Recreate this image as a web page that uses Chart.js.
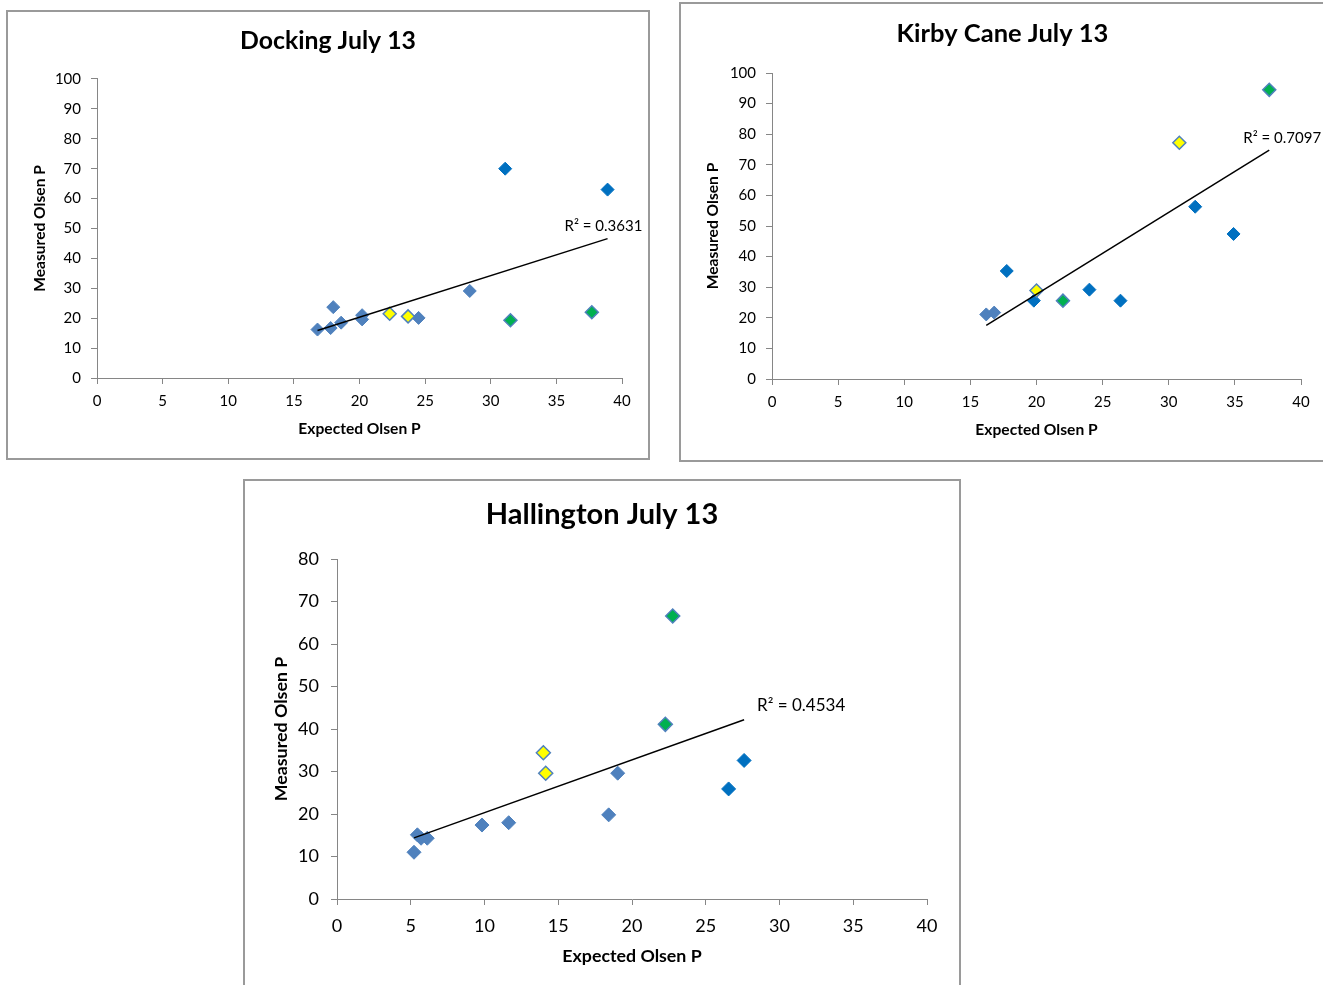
<!DOCTYPE html>
<html>
<head>
<meta charset="utf-8">
<script src="https://cdn.jsdelivr.net/npm/chart.js@4/dist/chart.umd.min.js"></script>
<style>
  html, body { margin: 0; padding: 0; background: #ffffff; }
  body { width: 1323px; height: 985px; position: relative; overflow: hidden; }
  .box { position: absolute; border: 2px solid #9a9a9a; background: #fff; }
  .box canvas { display: block; }
</style>
</head>
<body>
<div class="box" id="box1" style="left:6px; top:10px;"><canvas id="c1" width="640" height="446"></canvas></div>
<div class="box" id="box2" style="left:679px; top:2px;"><canvas id="c2" width="643" height="456"></canvas></div>
<div class="box" id="box3" style="left:243px; top:479px;"><canvas id="c3" width="714" height="504"></canvas></div>
<script>
// ---------------- DATA ----------------
const chartTitles = ['Docking July 13', 'Kirby Cane July 13', 'Hallington July 13'];
const xAxisTitle = 'Expected Olsen P';
const yAxisTitle = 'Measured Olsen P';
const r2Labels = ['R\u00B2 = 0.3631', 'R\u00B2 = 0.7097', 'R\u00B2 = 0.4534'];
const xTickMax = 40, xTickStep = 5;
const yTickMax = [100, 100, 80], yTickStep = 10;

// Docking
const dockLightX = [16.8, 17.8, 18.0, 18.6, 20.2, 20.2, 24.5, 28.4];
const dockLightY = [16.2, 16.7, 23.7, 18.5, 21.0, 19.6, 20.1, 29.1];
const dockDarkX = [31.1, 38.9];
const dockDarkY = [70.0, 63.0];
const dockYellowX = [22.3, 23.7];
const dockYellowY = [21.5, 20.6];
const dockGreenX = [31.5, 37.7];
const dockGreenY = [19.3, 22.0];

// Kirby Cane
const kirbyLightX = [16.2, 16.8];
const kirbyLightY = [21.1, 21.7];
const kirbyDarkX = [17.75, 19.8, 24.0, 26.35, 32.0, 34.9];
const kirbyDarkY = [35.3, 25.6, 29.2, 25.6, 56.3, 47.4];
const kirbyYellowX = [20.0, 30.8];
const kirbyYellowY = [28.9, 77.2];
const kirbyGreenX = [22.0, 37.6];
const kirbyGreenY = [25.6, 94.5];

// Hallington
const hallLightX = [5.22, 5.45, 5.7, 6.12, 9.83, 11.64, 18.42, 19.03];
const hallLightY = [11.0, 15.1, 14.3, 14.3, 17.4, 17.95, 19.8, 29.6];
const hallDarkX = [26.55, 27.6];
const hallDarkY = [25.9, 32.6];
const hallYellowX = [13.99, 14.15];
const hallYellowY = [34.4, 29.6];
const hallGreenX = [22.26, 22.76];
const hallGreenY = [41.1, 66.6];

// ---------------- HELPERS ----------------
const FONT = 'Lato, "Open Sans", "Noto Sans", sans-serif';
const COL_LIGHT = '#4F81BD';
const COL_DARK = '#0070C0';
const COL_YELLOW = '#FFFF00';
const COL_GREEN = '#00B050';
const AXIS_COL = '#868686';

function pts(xs, ys) { return xs.map((x, i) => ({ x: x, y: ys[i] })); }

function trend(groups) {
  const xs = [], ys = [];
  groups.forEach(g => { g[0].forEach((v, i) => { xs.push(v); ys.push(g[1][i]); }); });
  const n = xs.length;
  const mx = xs.reduce((a, b) => a + b, 0) / n;
  const my = ys.reduce((a, b) => a + b, 0) / n;
  let sxy = 0, sxx = 0;
  for (let i = 0; i < n; i++) { sxy += (xs[i] - mx) * (ys[i] - my); sxx += (xs[i] - mx) * (xs[i] - mx); }
  const b = sxy / sxx, a = my - b * mx;
  const x0 = Math.min(...xs), x1 = Math.max(...xs);
  return [{ x: x0, y: a + b * x0 }, { x: x1, y: a + b * x1 }];
}

function markerSet(data, fill, border, bw, r, order) {
  return {
    type: 'scatter', data: data, order: order,
    pointStyle: 'rectRot', pointRadius: r, pointHoverRadius: r,
    backgroundColor: fill, borderColor: border, borderWidth: bw, showLine: false
  };
}

const r2Plugin = {
  id: 'r2label',
  afterDatasetsDraw(chart, args, opts) {
    const ds = chart.data.datasets[0].data;
    const end = ds[ds.length - 1];
    const px = chart.scales.x.getPixelForValue(end.x);
    const py = chart.scales.y.getPixelForValue(end.y);
    const ctx = chart.ctx;
    ctx.save();
    ctx.font = opts.size + 'px ' + FONT;
    ctx.fillStyle = '#000';
    ctx.textAlign = 'left';
    ctx.textBaseline = 'middle';
    ctx.fillText(opts.text, px + opts.dx, py + opts.dy);
    ctx.restore();
  }
};

function makeChart(id, p) {
  const groups = p.groups;
  const datasets = [
    { type: 'line', data: trend(groups.map(g => [g.x, g.y])), order: 0,
      borderColor: '#000', borderWidth: 1.5, pointRadius: 0, fill: false, tension: 0 }
  ];
  groups.forEach((g, i) => {
    datasets.push(markerSet(pts(g.x, g.y), g.fill, g.border, g.bw, p.r, i + 1));
  });
  new Chart(document.getElementById(id), {
    data: { datasets: datasets },
    plugins: [r2Plugin],
    options: {
      responsive: false, animation: false, events: [],
      layout: { padding: 0 },
      plugins: {
        legend: { display: false }, tooltip: { enabled: false },
        title: { display: true, text: p.title, color: '#000',
          font: { family: FONT, size: p.titleSize, weight: 'bold', lineHeight: 1.2 },
          padding: { top: p.titlePadTop, bottom: p.titlePadBottom } },
        r2label: { text: p.r2, size: p.r2Size, dx: p.r2dx, dy: p.r2dy }
      },
      scales: {
        x: {
          type: 'linear', min: 0, max: xTickMax,
          afterFit: s => { s.height = p.xAxisH; },
          ticks: { stepSize: xTickStep, color: '#000', padding: p.xTickPad,
            font: { family: FONT, size: p.tickSize }, maxRotation: 0 },
          grid: { display: true, drawOnChartArea: false, drawTicks: true, tickLength: 6, color: AXIS_COL },
          border: { display: true, color: AXIS_COL, width: 1 },
          title: { display: true, text: xAxisTitle, color: '#000',
            font: { family: FONT, size: p.axisTitleSize, weight: 'bold', lineHeight: 1.2 },
            padding: { top: 0, bottom: p.xTitlePadBottom } }
        },
        y: {
          type: 'linear', min: 0, max: p.yMax,
          afterFit: s => { s.width = p.yAxisW; },
          ticks: { stepSize: yTickStep, color: '#000', padding: p.yTickPad,
            font: { family: FONT, size: p.tickSize } },
          grid: { display: true, drawOnChartArea: false, drawTicks: true, tickLength: 6, color: AXIS_COL },
          border: { display: true, color: AXIS_COL, width: 1 },
          title: { display: true, text: yAxisTitle, color: '#000',
            font: { family: FONT, size: p.axisTitleSize, weight: 'bold', lineHeight: 1.2 },
            padding: { top: p.yTitlePadTop, bottom: 0 } }
        },
        spacer: {
          type: 'linear', position: 'right', min: 0, max: 1, display: true,
          afterFit: s => { s.width = p.padRight; },
          ticks: { display: false },
          grid: { display: false, drawTicks: false },
          border: { display: false },
          title: { display: false }
        }
      }
    }
  });
}

function stdGroups(lx, ly, dx, dy, yx, yy, gx, gy) {
  return [
    { x: yx, y: yy, fill: COL_YELLOW, border: COL_LIGHT, bw: 1.5 },
    { x: gx, y: gy, fill: COL_GREEN, border: COL_LIGHT, bw: 1.5 },
    { x: dx, y: dy, fill: COL_DARK, border: COL_DARK, bw: 1 },
    { x: lx, y: ly, fill: COL_LIGHT, border: COL_LIGHT, bw: 1 }
  ];
}

makeChart('c1', {
  title: chartTitles[0], titleSize: 24.8, titlePadTop: 14.2, titlePadBottom: 23.0,
  yMax: yTickMax[0], yAxisW: 89, xAxisH: 80, padRight: 26,
  tickSize: 15, xTickPad: 8, yTickPad: 10, axisTitleSize: 15.6,
  xTitlePadBottom: 19.6, yTitlePadTop: 22.6, r: 6.5,
  r2: r2Labels[0], r2Size: 15, r2dx: -43, r2dy: -12,
  groups: stdGroups(dockLightX, dockLightY, dockDarkX, dockDarkY, dockYellowX, dockYellowY, dockGreenX, dockGreenY)
});

makeChart('c2', {
  title: chartTitles[1], titleSize: 25.5, titlePadTop: 14.8, titlePadBottom: 23.6,
  yMax: yTickMax[1], yAxisW: 91, xAxisH: 81, padRight: 23,
  tickSize: 15, xTickPad: 8, yTickPad: 10, axisTitleSize: 15.6,
  xTitlePadBottom: 20.6, yTitlePadTop: 22.6, r: 6.5,
  r2: r2Labels[1], r2Size: 15, r2dx: -26, r2dy: -12,
  groups: stdGroups(kirbyLightX, kirbyLightY, kirbyDarkX, kirbyDarkY, kirbyYellowX, kirbyYellowY, kirbyGreenX, kirbyGreenY)
});

makeChart('c3', {
  title: chartTitles[2], titleSize: 29, titlePadTop: 15.8, titlePadBottom: 27.4,
  yMax: yTickMax[2], yAxisW: 92, xAxisH: 86, padRight: 32,
  tickSize: 18, xTickPad: 10, yTickPad: 12, axisTitleSize: 17.8,
  xTitlePadBottom: 18.4, yTitlePadTop: 25.4, r: 7,
  r2: r2Labels[2], r2Size: 17, r2dx: 13, r2dy: -14,
  groups: stdGroups(hallLightX, hallLightY, hallDarkX, hallDarkY, hallYellowX, hallYellowY, hallGreenX, hallGreenY)
});
</script>
</body>
</html>
